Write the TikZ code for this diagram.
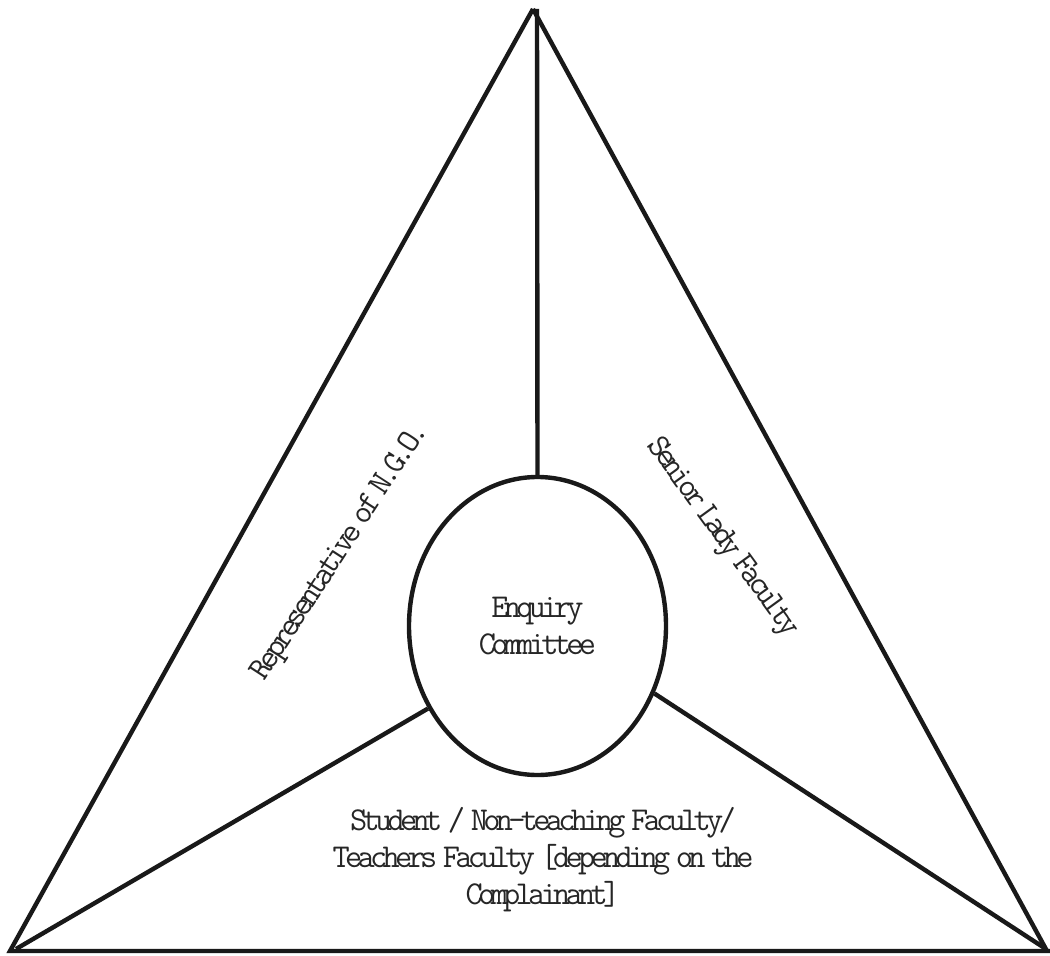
\documentclass[tikz,border=0pt]{standalone}
\usepackage{fontspec}
\usetikzlibrary{shapes.geometric}
\newfontfamily\diagfont[LetterSpace=-14,WordSpace=0.45]{Latin Modern Mono}
\begin{document}
\begin{tikzpicture}[x=0.75pt,y=-0.75pt,
  edge/.style={line width=3.3pt,draw=black!90},
  lbl/.style={font=\diagfont\fontsize{25}{27.75}\selectfont,inner sep=0pt,text=black!85,align=center}]
\useasboundingbox (0,0) rectangle (1050,956);
\coordinate (A) at (533,9);
\coordinate (BL) at (10,951);
\coordinate (BR) at (1047,951);
\coordinate (Top) at (537,9);
\coordinate (BLc) at (16,949);
\coordinate (BRc) at (1046,949);
\draw[edge,line join=miter] (A) -- (BL) -- (1050,951);
\draw[edge] (A) -- (BR);
\node[ellipse,edge,draw,minimum width=192.75pt,minimum height=223.5pt,inner sep=0pt,lbl] (E) at (537.5,626) {Enquiry\\Committee};
\draw[edge] (Top) -- (E.north);
\draw[edge] (BLc) -- (E.217.5);
\draw[edge] (BRc) -- (E.330.7);
\node[lbl,rotate=57] (L) at (341,552) {Representative of N.G.O.};
\node[lbl,rotate=-54] (R) at (722,538) {Senior Lady Faculty};
\node[lbl] (B) at (543,860) {Student / Non-teaching Faculty/\\Teachers Faculty [depending on the\\Complainant]};
\end{tikzpicture}
\end{document}
